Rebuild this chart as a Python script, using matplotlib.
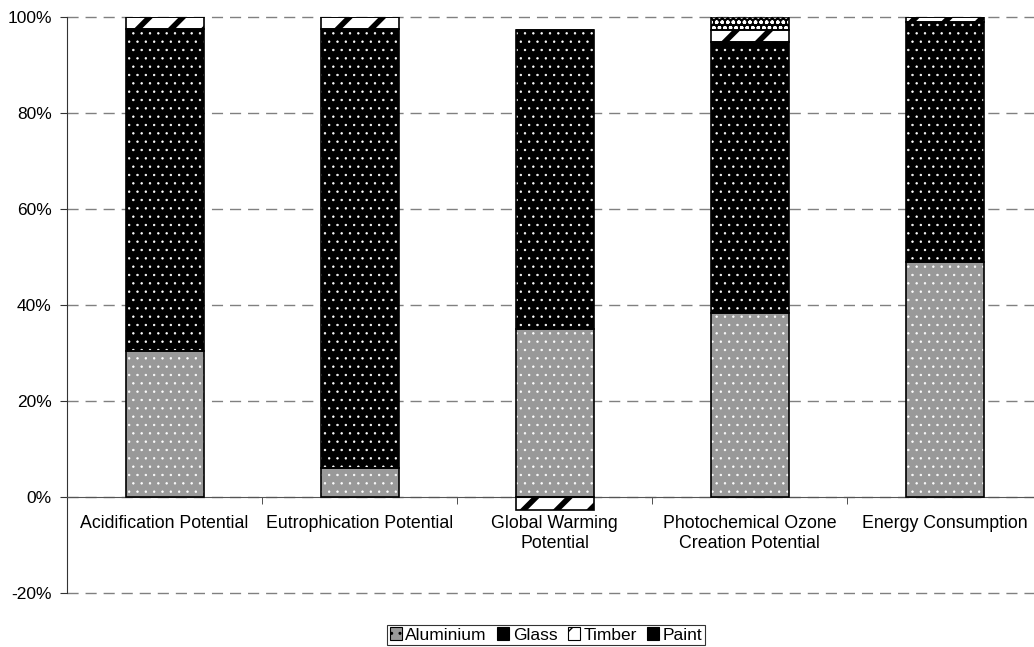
import matplotlib
matplotlib.use('Agg')
import matplotlib.pyplot as plt
from matplotlib.patches import Patch
import numpy as np

plt.rcParams['font.family'] = ['Liberation Sans', 'DejaVu Sans']

categories = ['Acidification Potential', 'Eutrophication Potential',
              'Global Warming\nPotential', 'Photochemical Ozone\nCreation Potential',
              'Energy Consumption']
materials = ['Aluminium', 'Glass', 'Timber', 'Paint']
aluminium = [30.5, 6.0, 35.0, 38.3, 49.0]
glass = [67.0, 91.5, 62.3, 56.5, 50.0]
timber = [2.5, 2.5, -2.7, 2.5, 1.0]
paint = [0.0, 0.0, 0.0, 2.7, 0.0]

# face colour, hatch, hatch colour, hatch line width
stili = {
    'Aluminium': ('#999999', '..', 'white', 0.5),
    'Glass': ('black', '..', 'white', 0.5),
    'Timber': ('white', '/', 'black', 4.0),
    'Paint': ('black', 'ooo', 'white', 1.0),
}

fig = plt.figure(figsize=(10.34, 6.47), dpi=100)
ax = fig.add_axes([67 / 1034, 54 / 647, 975 / 1034, 576 / 647])

x = np.arange(len(categories))
larghezza = 0.4
sopra = np.zeros(len(categories))
sotto = np.zeros(len(categories))

for nome, valori in zip(materials, [aluminium, glass, timber, paint]):
    valori = np.array(valori)
    base = np.where(valori >= 0, sopra, sotto)
    fc, hatch, hc, hlw = stili[nome]
    with plt.rc_context({'hatch.linewidth': hlw}):
        ax.bar(x, valori, larghezza, bottom=base, color=fc, hatch=hatch,
               edgecolor=hc, linewidth=0, zorder=2)
    # contorno nero sopra il riempimento
    ax.bar(x, valori, larghezza, bottom=base, fill=False,
           edgecolor='black', linewidth=1.2, zorder=3)
    sopra = sopra + np.where(valori >= 0, valori, 0)
    sotto = sotto + np.where(valori < 0, valori, 0)

ax.set_xlim(-0.5, 4.5)
ax.set_ylim(-20, 100)
ax.set_yticks(range(-20, 101, 20))
ax.set_yticklabels([f'{v}%' for v in range(-20, 101, 20)])
ax.yaxis.grid(True, linestyle=(0, (8, 5)), color='#808080', linewidth=1)
for gl in ax.get_ygridlines():
    gl.set_clip_on(False)
ax.set_axisbelow(True)

ax.set_xticks(x)
ax.set_xticklabels(categories, linespacing=1.05)
ax.set_xticks(np.arange(-0.5, 5, 1), minor=True)
ax.tick_params(axis='x', which='major', length=0, pad=13, labelsize=12.75)
ax.tick_params(axis='x', which='minor', length=5, direction='out', color='#333333')
ax.tick_params(axis='y', length=5, direction='out', color='#333333', pad=6, labelsize=12.5)

ax.spines['top'].set_visible(False)
ax.spines['right'].set_visible(False)
ax.spines['bottom'].set_position(('data', 0))
ax.spines['bottom'].set_color('#555555')
ax.spines['left'].set_color('#333333')

maniglie = []
for nome in materials:
    fc, hatch, hc, hlw = stili[nome]
    maniglie.append(Patch(facecolor=fc, hatch=hatch, edgecolor='black', linewidth=0.8))
leg = fig.legend(maniglie, materials, loc='center', bbox_to_anchor=(546 / 1034, 1 - 635 / 647),
                 ncol=4, fontsize=12.5, frameon=True, fancybox=False, edgecolor='black',
                 handlelength=0.7, handleheight=0.7, handletextpad=0.2, columnspacing=0.6,
                 borderpad=0.15, borderaxespad=0)
leg.get_frame().set_linewidth(0.8)

fig.savefig('out.png', dpi=100)
